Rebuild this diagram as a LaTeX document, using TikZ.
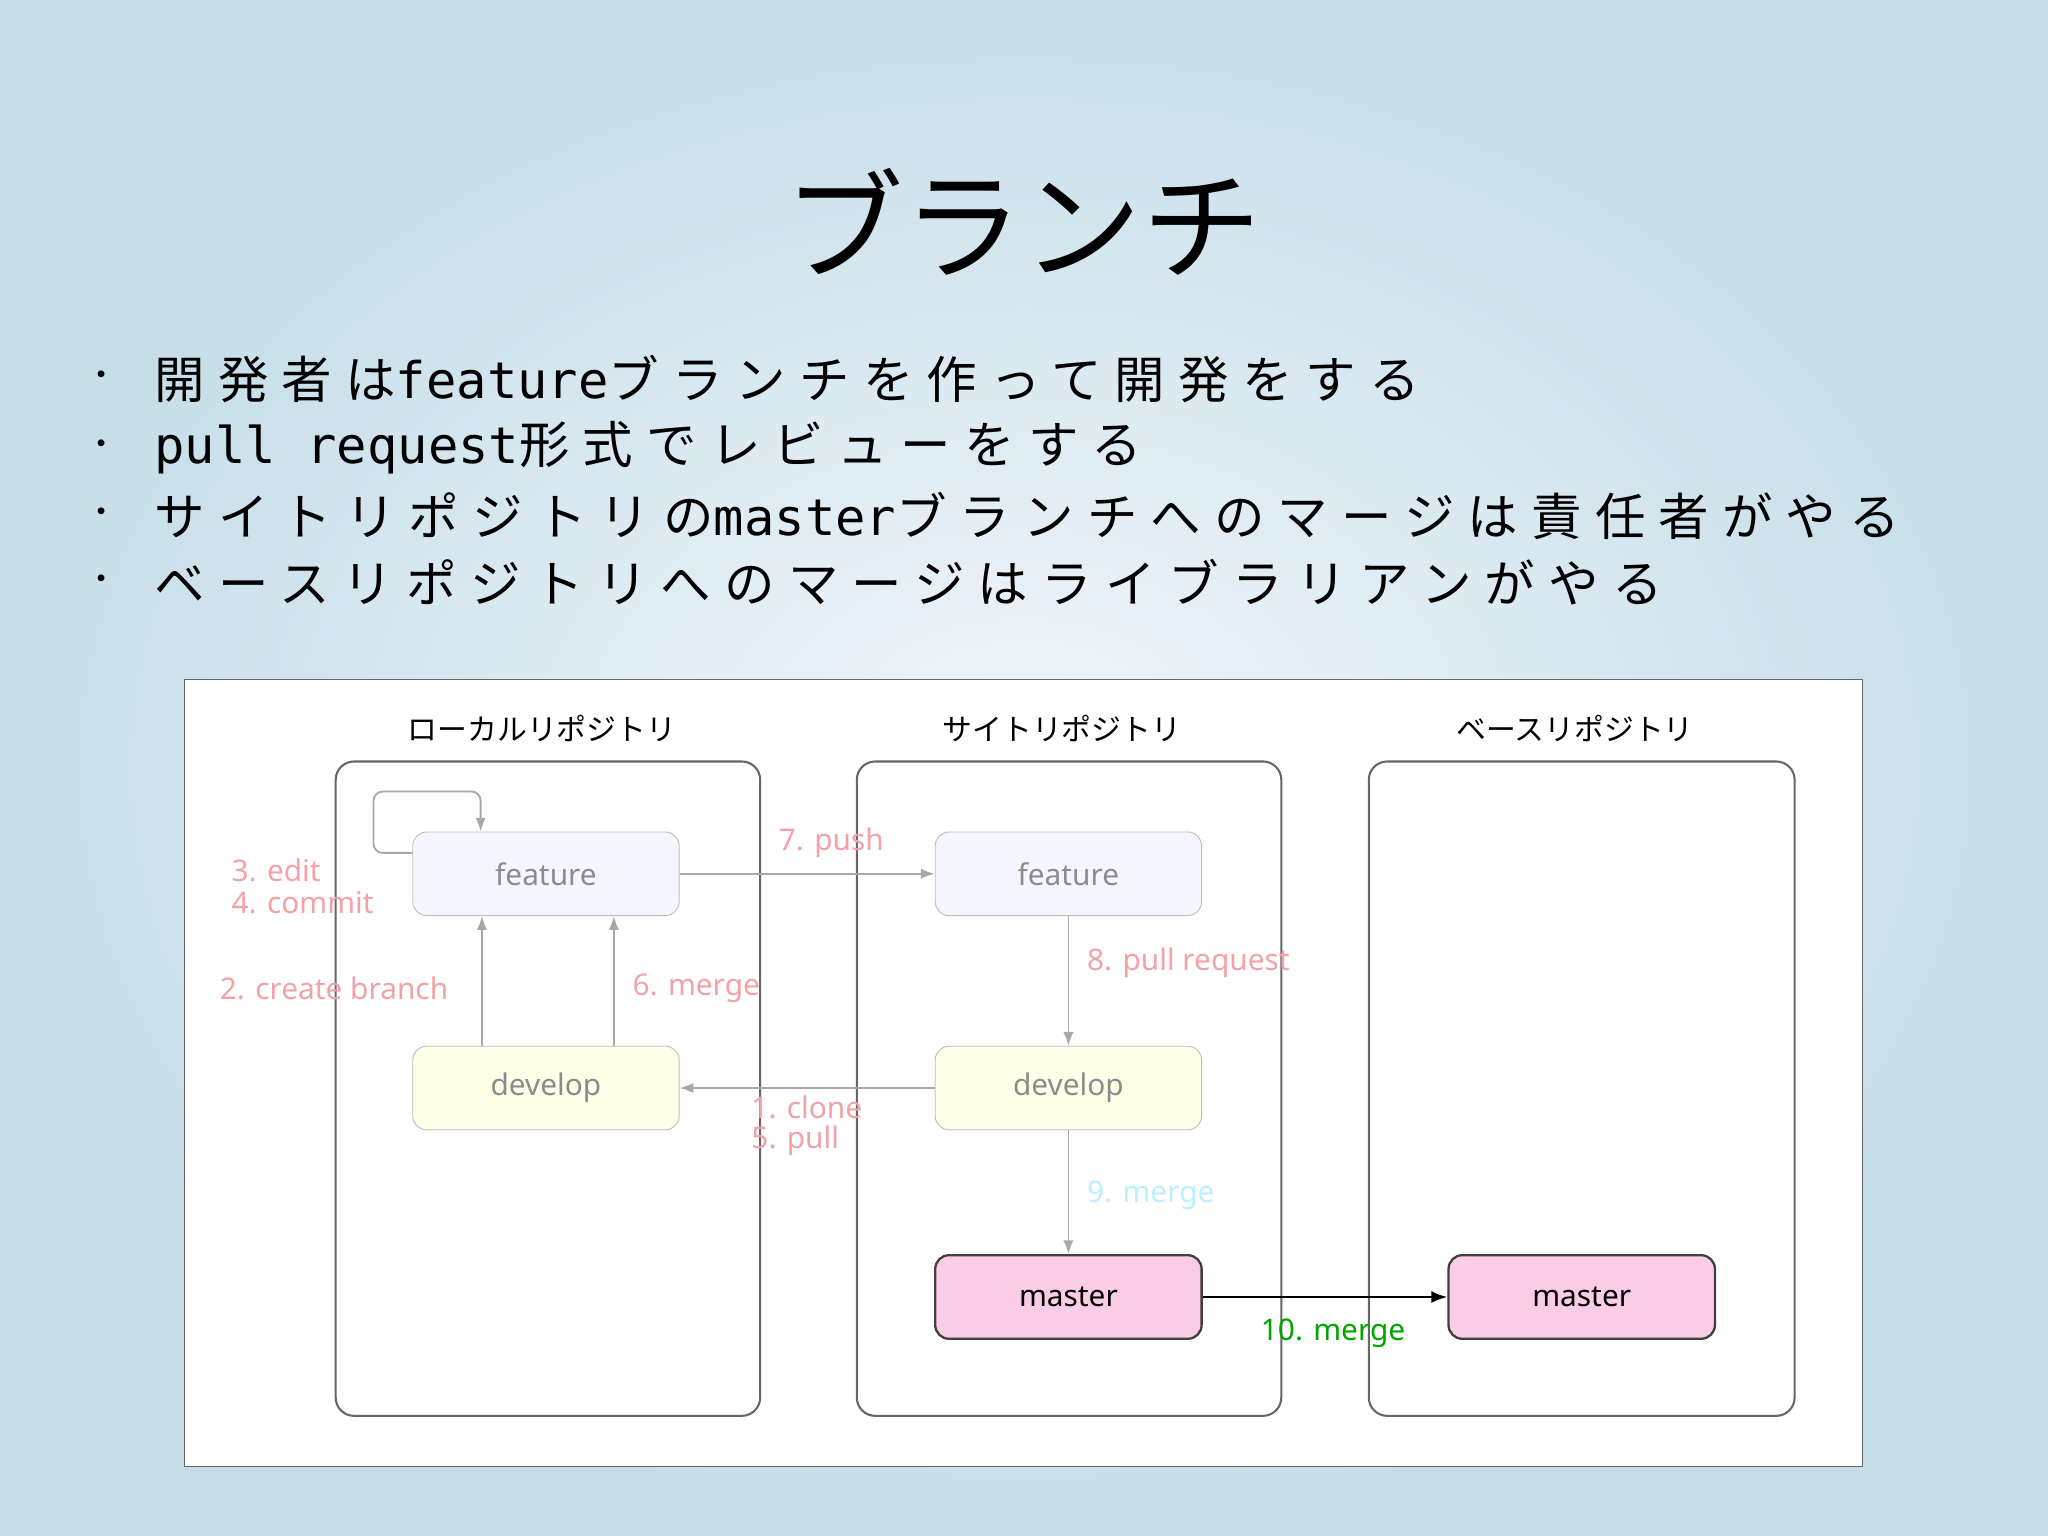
\documentclass[tikz,border=0pt]{standalone}
\usepackage{fontspec}
\setmainfont{Noto Sans CJK JP}
\newfontfamily\lat{Noto Sans}
\newfontfamily\bulcjk{Noto Sans CJK JP}[LetterSpace=26]
\newfontfamily\bullat{DejaVu Sans Mono}
\newcommand{\latw}[1]{{\bullat #1}}
\usetikzlibrary{arrows.meta}
\definecolor{bgout}{HTML}{C6DEE8}
\definecolor{bgin}{HTML}{F2F6FB}
\definecolor{lbl}{HTML}{F2A3A8}
\definecolor{arr}{HTML}{A8A8A8}
\begin{document}
\begin{tikzpicture}[x=0.02cm,y=-0.02cm,
  col/.style={draw=black!60,line width=0.9pt,rounded corners=8pt},
  box/.style={draw=black!25,rounded corners=6pt,minimum width=4.08cm,minimum height=1.28cm,font=\lat\fontsize{13}{15}\selectfont,text=black!45},
  feat/.style={box,fill=blue!4},
  dev/.style={box,fill=yellow!10},
  mast/.style={box,fill=magenta!20,draw=black!75,line width=1pt,text=black},
  ga/.style={draw=arr,line width=0.8pt,-{Latex[length=6pt]}},
  lab/.style={font=\lat\fontsize{13}{15}\selectfont,text=lbl,anchor=west,inner sep=0},
  coltitle/.style={font=\fontsize{13}{15}\selectfont},
  bul/.style={font=\bulcjk\fontsize{22}{26}\selectfont,anchor=west,inner sep=0}]
\useasboundingbox (0,0) rectangle (1568,1176);
\shade[inner color=bgin,outer color=bgout] (0,0) rectangle (1568,1176);
\node[font=\fontsize{52}{60}\selectfont] (title) at (783,170) {ブランチ};
\foreach \y [count=\i] in {290,343,395,446}{
  \node[font=\fontsize{14}{16}\selectfont] (d\i) at (78,\y) {・};
}
\node[bul] (b1) at (118,290) {開発者は\latw{feature}ブランチを作って開発をする};
\node[bul] (b2) at (118,343) {\latw{pull request}形式でレビューをする};
\node[bul] (b3) at (118,395) {サイトリポジトリの\latw{master}ブランチへのマージは責任者がやる};
\node[bul] (b4) at (118,446) {ベースリポジトリへのマージはライブラリアンがやる};
\draw[fill=white,draw=black!60] (141,520) rectangle (1426,1123);
\draw[col] (257,583) rectangle (582,1084);
\draw[col] (656,583) rectangle (981,1084);
\draw[col] (1048,583) rectangle (1374,1084);
\node[coltitle] (t1) at (415,558) {ローカルリポジトリ};
\node[coltitle] (t2) at (813,558) {サイトリポジトリ};
\node[coltitle] (t3) at (1206,558) {ベースリポジトリ};
\node[feat] (lf) at (418,669) {feature};
\node[dev] (ld) at (418,833) {develop};
\node[feat] (sf) at (818,669) {feature};
\node[dev] (sd) at (818,833) {develop};
\node[mast] (sm) at (818,993) {master};
\node[mast] (bm) at (1211,993) {master};
\draw[ga] (ld.north -| 369,0) -- (lf.south -| 369,0);
\draw[ga] (ld.north -| 470,0) -- (lf.south -| 470,0);
\draw[ga,rounded corners=4pt] (lf.west |- 0,653) -- (286,653) -- (286,606) -- (368,606) -- (lf.north -| 368,0);
\draw[ga] (lf) -- (sf);
\draw[ga] (sf) -- (sd);
\draw[ga] (sd) -- (ld);
\draw[ga] (sd) -- (sm);
\draw[line width=1pt,-{Latex[length=7pt]}] (sm) -- (bm);
\node[lab] (l3) at (177,666) {3. edit};
\node[lab] (l4) at (177,691) {4. commit};
\node[lab] (l2) at (168,757) {2. create branch};
\node[lab] (l6) at (484,757) {6. merge};
\node[lab] (l7) at (596,645) {7. push};
\node[lab] (l8) at (832,737) {8. pull request};
\node[lab] (l1) at (575,848) {1. clone};
\node[lab] (l5) at (575,873) {5. pull};
\node[lab,text=blue!25!cyan!25] (l9) at (832,915) {9. merge};
\node[lab,text=green!65!black,font=\lat\bfseries\fontsize{13}{15}\selectfont] (l10) at (965,1021) {10. merge};
\end{tikzpicture}
\end{document}
